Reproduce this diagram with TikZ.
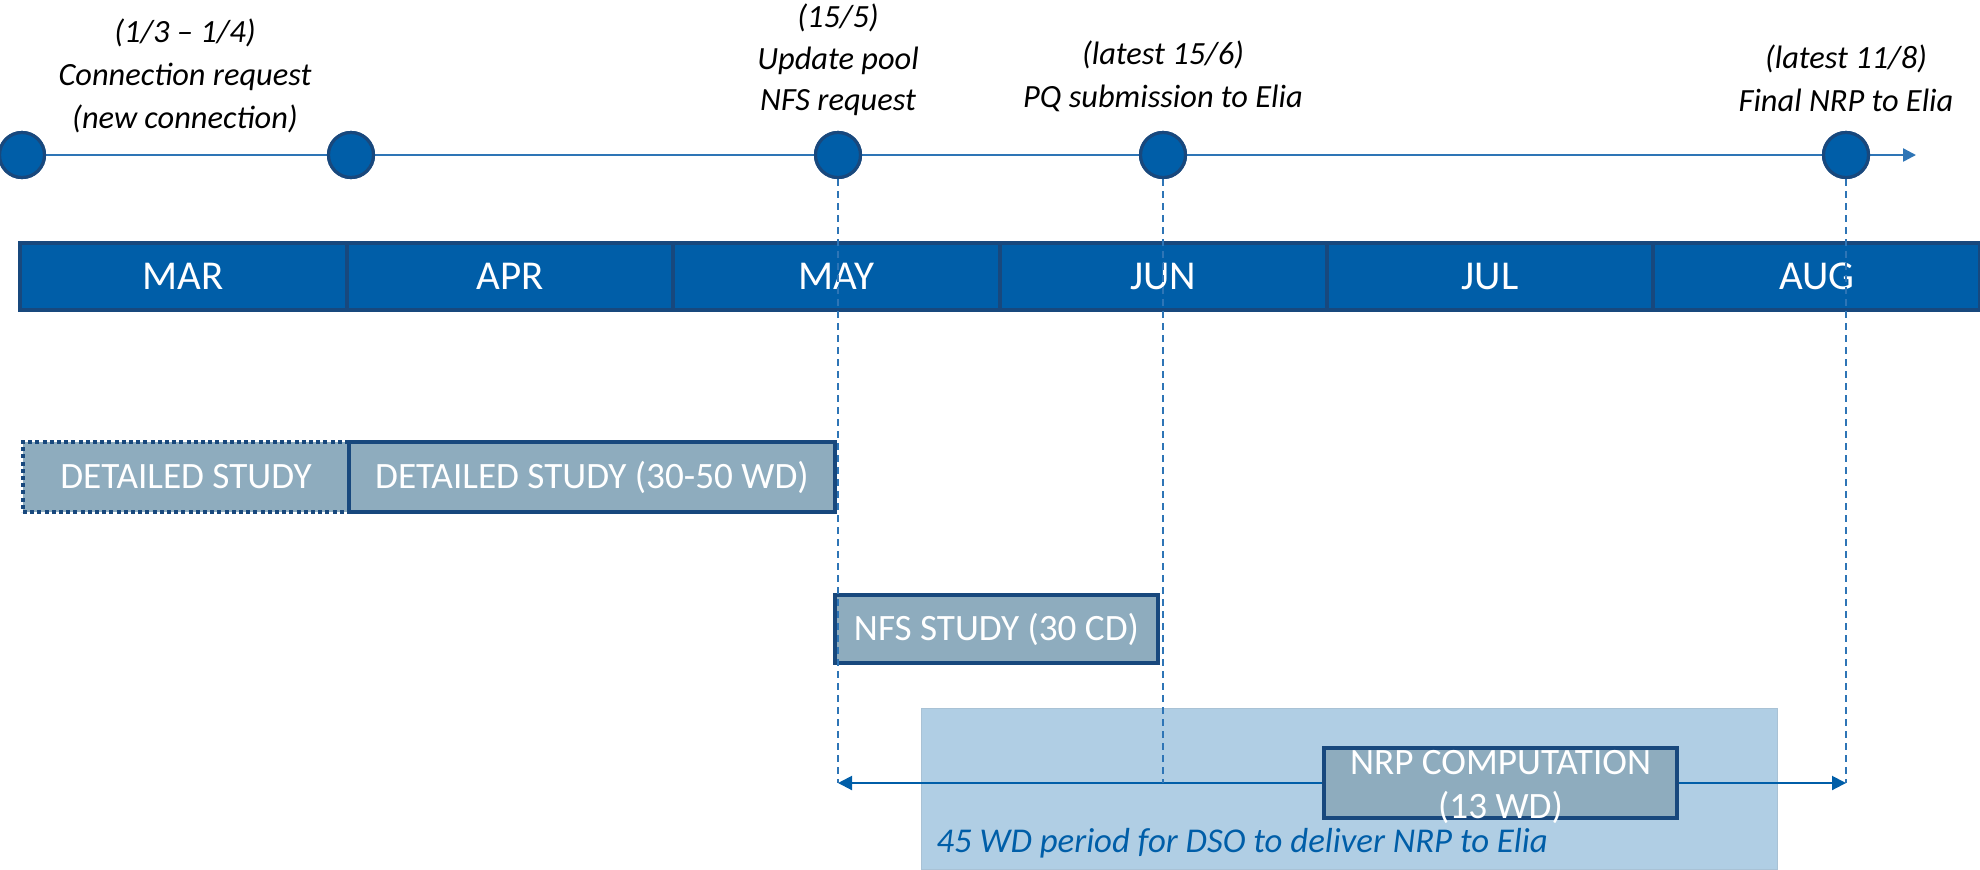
\documentclass[tikz,border=0pt]{standalone}
\usepackage{fontspec}
\setmainfont{Carlito}
\usetikzlibrary{arrows.meta}
\definecolor{tlblue}{RGB}{46,117,182}
\definecolor{nodeblue}{RGB}{0,94,168}
\definecolor{darkblue}{RGB}{24,72,125}
\definecolor{boxgrey}{RGB}{142,172,190}
\definecolor{lightbg}{RGB}{176,206,228}
\begin{document}
\begin{tikzpicture}[x=0.5pt,y=-0.5pt,
  tl/.style={draw=tlblue, line width=1.2pt},
  milestone/.style={circle, fill=nodeblue, draw=darkblue, line width=1.6pt, minimum size=22.5pt, inner sep=0pt},
  lbl/.style={align=center, font=\itshape\fontsize{16.2}{21.5}\selectfont, inner sep=0pt},
  monthbox/.style={draw=darkblue, fill=nodeblue, line width=2pt, minimum width=163.3pt, minimum height=33.5pt, text=white, font=\fontsize{20.5}{22}\selectfont, inner sep=0pt},
  taskbox/.style={fill=boxgrey, draw=darkblue, line width=2pt, text=white, font=\fontsize{18.6}{20}\selectfont, inner sep=0pt},
  guide/.style={draw=tlblue, line width=1pt, dash pattern=on 3.5pt off 2.5pt},
  period/.style={draw=nodeblue, line width=1pt, {Triangle[length=7pt,width=7pt]}-{Triangle[length=7pt,width=7pt]}},
]
\useasboundingbox (0,0) rectangle (1980,869);

% background period
\node[fill=lightbg, draw=lightbg!85!gray, line width=0.5pt, minimum width=428pt, minimum height=80.5pt, inner sep=0pt] (bg) at (1349,789) {};

% months
\node[monthbox] (mar) at (183.3,276) {MAR};
\node[monthbox] (apr) at (510,276) {APR};
\node[monthbox] (may) at (836.7,276) {MAY};
\node[monthbox] (jun) at (1163.3,276) {JUN};
\node[monthbox] (jul) at (1490,276) {JUL};
\node[monthbox] (aug) at (1816.7,276) {AUG};

% task boxes
\node[taskbox, dash pattern=on 2pt off 1.6pt, minimum width=163pt, minimum height=35pt] (ds1) at (186,477) {DETAILED STUDY};
\node[taskbox, minimum width=243pt, minimum height=35pt] (ds2) at (592,477) {DETAILED STUDY (30-50 WD)};
\node[taskbox, minimum width=161.5pt, minimum height=34pt] (nfs) at (996.5,629) {NFS STUDY (30 CD)};

% timeline milestones
\coordinate (tlend) at (1916,155);
\node[milestone] (m1) at (22,155) {};
\node[milestone] (m2) at (351,155) {};
\node[milestone] (m3) at (838,155) {};
\node[milestone] (m4) at (1163,155) {};
\node[milestone] (m5) at (1846,155) {};
\coordinate (arrL) at (838,783);
\coordinate (arrM) at (1163,783);
\coordinate (arrR) at (1846,783);

% period arrow
\draw[period] (arrL) -- (arrR);

% guides
\draw[guide] (m3.center) -- (arrL);
\draw[guide] (m4.center) -- (arrM);
\draw[guide] (m5.center) -- (arrR);

% timeline line and milestones on top
\draw[tl, -{Triangle[length=6.5pt,width=6.5pt]}] (m1.center) -- (tlend);
\foreach \p in {(22,155),(351,155),(838,155),(1163,155),(1846,155)}
  \node[milestone] at \p {};

% NRP box
\node[taskbox, minimum width=176.5pt, minimum height=35pt] (nrp) at (1500.5,783) {};
\node[align=center, text=white, font=\fontsize{18.6}{22}\selectfont, inner sep=0pt] (nrptext) at (1500.5,787) {NRP COMPUTATION\\(13 WD)};

\node[anchor=west, text=nodeblue, font=\itshape\fontsize{17.4}{20}\selectfont, inner sep=0pt] (pertext) at (936,843) {45 WD period for DSO to deliver NRP to Elia};

% labels
\node[lbl] (l1) at (185,76) {(1/3 – 1/4)\\Connection request\\(new connection)};
\node[lbl, font=\itshape\fontsize{16.2}{20.8}\selectfont] (l2) at (838,60) {(15/5)\\Update pool\\NFS request};
\node[lbl] (l3) at (1163,76) {(latest 15/6)\\PQ submission to Elia};
\node[lbl] (l4) at (1846,78) {(latest 11/8)\\Final NRP to Elia};
\end{tikzpicture}
\end{document}
